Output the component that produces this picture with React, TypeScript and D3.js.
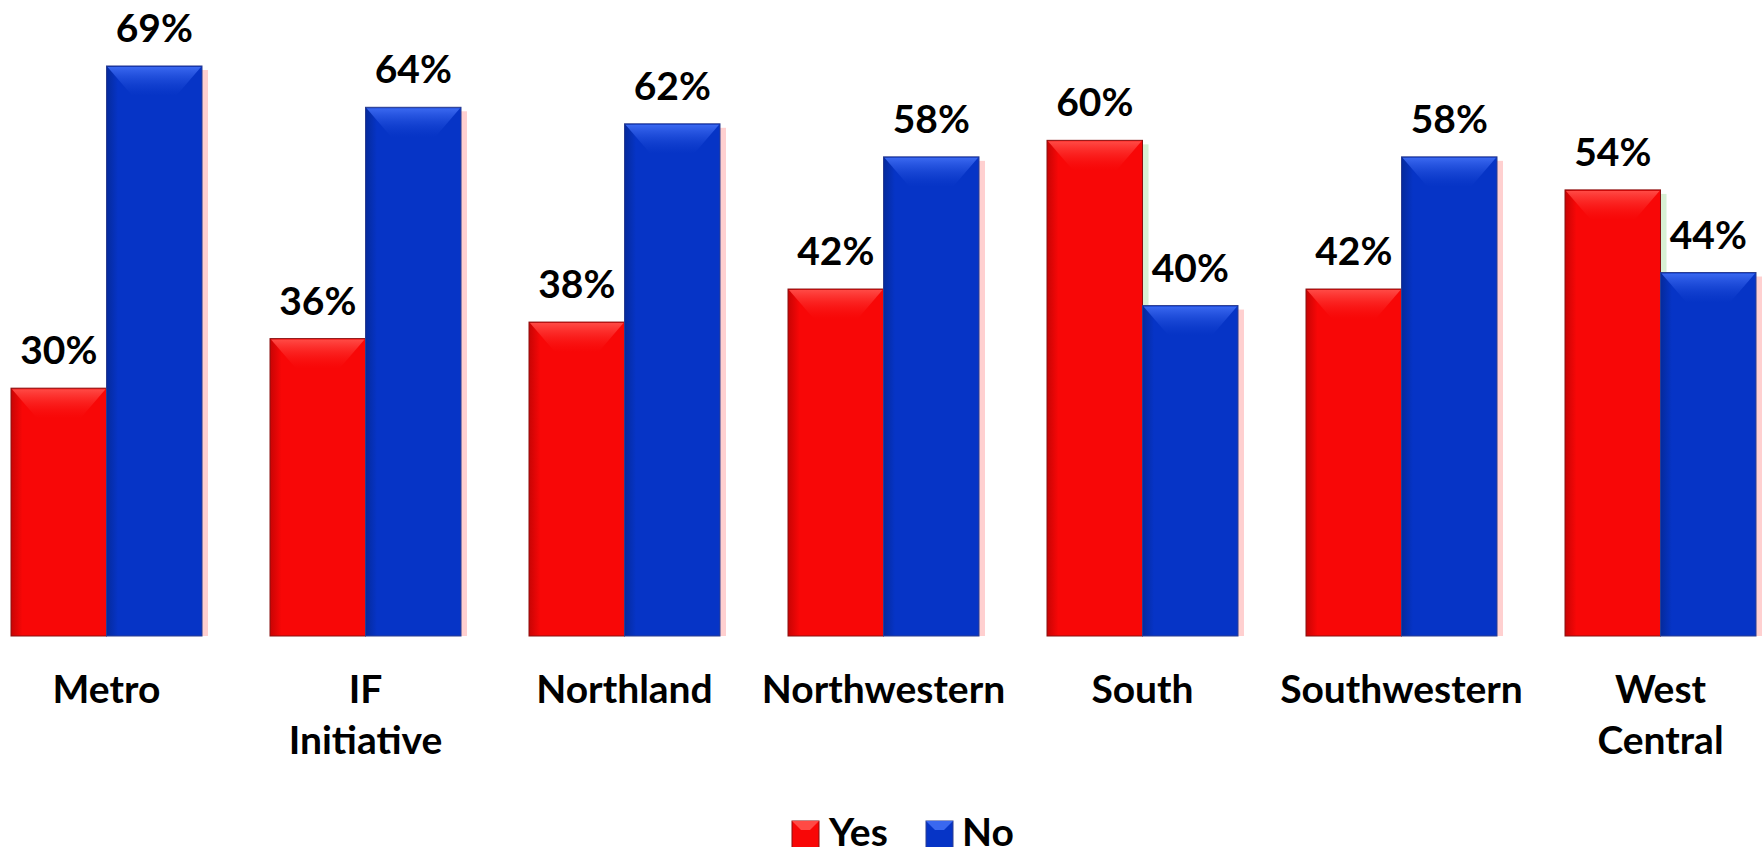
import React from "react";
import * as d3 from "d3";

const categories: string[][] = [
  ["Metro"],
  ["IF", "Initiative"],
  ["Northland"],
  ["Northwestern"],
  ["South"],
  ["Southwestern"],
  ["West", "Central"],
];
const yesValues = [30, 36, 38, 42, 60, 42, 54];
const noValues = [69, 64, 62, 58, 40, 58, 44];
const seriesNames = ["Yes", "No"];

const W = 1763;
const H = 847;
const FONT = "Lato, 'Open Sans', sans-serif";

export default function App() {
  const keys = categories.map((c) => c.join(" "));
  const p = 68 / 259;
  const x = d3
    .scaleBand<string>()
    .domain(keys)
    .range([-23, -23 + 7 * 259])
    .paddingInner(p)
    .paddingOuter(p / 2);
  const x1 = d3.scaleBand<string>().domain(seriesNames).range([0, x.bandwidth()]).padding(0);
  const y = d3.scaleLinear().domain([0, 70]).range([636, 636 - 70 * 8.261]);

  const colors: Record<string, { main: string; dark: string; light: string; stroke: string }> = {
    Yes: { main: "#f80707", dark: "#c80404", light: "#ff4a45", stroke: "#8a1010" },
    No: { main: "#0634c6", dark: "#052a9c", light: "#3a68f0", stroke: "#2a3c90" },
  };

  const bar = (s: string, v: number, cx: number, key: string) => {
    const bx = cx + (x1(s) as number);
    const bw = x1.bandwidth();
    const top = y(v);
    const bottom = y(0);
    const c = colors[s];
    const d = 30;
    const inset = 26;
    return (
      <g key={key}>
        <rect x={bx + bw} y={top + 4} width={6} height={bottom - top - 4} fill={s === "No" ? "#ffb0b0" : "#bde6b8"} opacity={0.6} />
        <rect x={bx} y={top} width={bw} height={bottom - top} fill={`url(#grad-${s})`} stroke={c.stroke} strokeWidth={1} />
        <path
          d={`M${bx + 1},${top + 1} L${bx + bw - 1},${top + 1} L${bx + bw - inset},${top + d} L${bx + inset},${top + d} Z`}
          fill={`url(#top-${s})`}
        />
        <text
          x={bx + bw / 2}
          y={top - 24}
          textAnchor="middle"
          fontFamily={FONT}
          fontWeight={700}
          fontSize={39}
          fill="#000"
        >
          {v}%
        </text>
      </g>
    );
  };

  return (
    <svg
      width={W}
      height={H}
      style={{ position: "absolute", left: 0, top: 0, background: "#fff" }}
    >
      <defs>
        {seriesNames.map((s) => (
          <React.Fragment key={s}>
            <linearGradient id={`grad-${s}`} x1="0" x2="1" y1="0" y2="0">
              <stop offset="0" stopColor={colors[s].dark} />
              <stop offset="0.12" stopColor={colors[s].main} />
              <stop offset="0.92" stopColor={colors[s].main} />
              <stop offset="1" stopColor={colors[s].main} />
            </linearGradient>
            <linearGradient id={`top-${s}`} x1="0" x2="0" y1="0" y2="1">
              <stop offset="0" stopColor={colors[s].light} />
              <stop offset="1" stopColor={colors[s].main} stopOpacity={0.3} />
            </linearGradient>
          </React.Fragment>
        ))}
      </defs>
      {categories.map((cat, i) => {
        const cx = x(keys[i]) as number;
        return (
          <g key={keys[i]}>
            {bar("Yes", yesValues[i], cx, "y" + i)}
            {bar("No", noValues[i], cx, "n" + i)}
            <text
              x={cx + x.bandwidth() / 2}
              y={703}
              textAnchor="middle"
              fontFamily={FONT}
              fontWeight={700}
              fontSize={39}
              fill="#000"
            >
              {cat.map((line, j) => (
                <tspan key={j} x={cx + x.bandwidth() / 2} dy={j === 0 ? 0 : 51}>
                  {line}
                </tspan>
              ))}
            </text>
          </g>
        );
      })}
      {[
        { s: "Yes", sx: 792, tx: 829 },
        { s: "No", sx: 926, tx: 962 },
      ].map((l) => (
        <g key={l.s}>
          <rect x={l.sx} y={821} width={27} height={27} fill={colors[l.s].main} stroke={colors[l.s].stroke} strokeWidth={1} />
          <path
            d={`M${l.sx},${821} L${l.sx + 27},${821} L${l.sx + 18},${830} L${l.sx + 9},${830} Z`}
            fill={colors[l.s].light}
          />
          <text x={l.tx} y={846} fontFamily={FONT} fontWeight={700} fontSize={39} fill="#000">
            {l.s}
          </text>
        </g>
      ))}
    </svg>
  );
}
